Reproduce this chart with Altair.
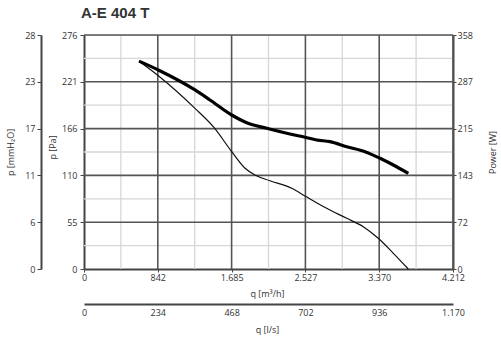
import altair as alt
import pandas as pd

title_text = "A-E 404 T"

# axis ranges
q_max = 4212      # m3/h
ls_max = 1170     # l/s
p_max = 276       # Pa
w_max = 358       # W

# tick labels (as printed on the chart)
q_tick_labels = ["0", "842", "1.685", "2.527", "3.370", "4.212"]
ls_tick_labels = ["0", "234", "468", "702", "936", "1.170"]
pa_tick_labels = ["0", "55", "110", "166", "221", "276"]
mm_tick_labels = ["0", "6", "11", "17", "23", "28"]
w_tick_labels = ["0", "72", "143", "215", "287", "358"]

# pressure curve (thin line): q [m3/h] vs p [Pa]
pres_q = [628, 848, 1267, 1476, 1686, 1838, 1952, 2123, 2371, 2523, 2770, 2999, 3188, 3359, 3531, 3702]
pres_p = [245, 228, 189.5, 167.8, 138.4, 118.8, 110.9, 104.1, 95.2, 86.1, 71.6, 59.8, 49.9, 36.2, 18.5, 0]

# power curve (thick line): q [m3/h] vs Power [W]
pow_q = [628, 848, 1267, 1438, 1686, 1857, 2085, 2351, 2523, 2656, 2808, 2999, 3208, 3379, 3531, 3702]
pow_w = [318, 304.5, 273.9, 258.6, 235.6, 223.8, 215.3, 206.5, 201.5, 197.4, 194.8, 187.1, 179.5, 169.4, 159.1, 146.4]

n_div = 5
q_step = q_max / n_div
p_step = p_max / n_div
w_step = w_max / n_div
ls_step = ls_max / n_div
q_ticks = [i * q_step for i in range(n_div + 1)]
p_ticks = [i * p_step for i in range(n_div + 1)]
w_ticks = [i * w_step for i in range(n_div + 1)]
ls_ticks = [i * ls_step for i in range(n_div + 1)]
idx_ticks = list(range(n_div + 1))
q_minor = [(i + 0.5) * q_step for i in range(n_div)]
p_minor = [(i + 0.5) * p_step for i in range(n_div)]


def lab_expr(labels, step):
    return "[" + ",".join("'%s'" % l for l in labels) + "][round(datum.value/%s)]" % step


FONT = "Open Sans"
common = dict(
    labelFont=FONT, labelFontSize=9, labelColor="#333",
    titleFont=FONT, titleFontSize=9, titleFontWeight="normal", titleColor="#333",
    domainColor="#444", domainWidth=2, tickColor="#444", tickWidth=1,
    grid=False, labelFlush=False, labelOverlap=False,
)

xs = alt.Scale(domain=[0, q_max], nice=False, zero=False)
ys_pa = alt.Scale(domain=[0, p_max], nice=False, zero=False)
ys_w = alt.Scale(domain=[0, w_max], nice=False, zero=False)

GRID_MINOR = "#d6d6d6"
GRID_MAJOR = "#555555"

minor_v = alt.Chart(pd.DataFrame({"q": q_minor})).mark_rule(
    color=GRID_MINOR, strokeWidth=1.3).encode(x=alt.X("q:Q", scale=xs, axis=None))
minor_h = alt.Chart(pd.DataFrame({"p": p_minor})).mark_rule(
    color=GRID_MINOR, strokeWidth=1.3).encode(y=alt.Y("p:Q", scale=ys_pa, axis=None))
major_v = alt.Chart(pd.DataFrame({"q": q_ticks[1:]})).mark_rule(
    color=GRID_MAJOR, strokeWidth=1.6).encode(x=alt.X("q:Q", scale=xs, axis=None))
major_h = alt.Chart(pd.DataFrame({"p": p_ticks[1:]})).mark_rule(
    color=GRID_MAJOR, strokeWidth=1.6).encode(y=alt.Y("p:Q", scale=ys_pa, axis=None))

pres = alt.Chart(pd.DataFrame({"q": pres_q, "p": pres_p})).mark_line(
    color="#111", strokeWidth=1.2, interpolate="monotone").encode(
    x=alt.X("q:Q", scale=xs, axis=alt.Axis(
        orient="bottom", values=q_ticks, labelExpr=lab_expr(q_tick_labels, q_step),
        title="q [m³/h]", tickSize=3, labelPadding=1,
        titleX=183, titleY=24, titleAlign="center", titleBaseline="middle", **common)),
    y=alt.Y("p:Q", scale=ys_pa, axis=alt.Axis(
        orient="left", values=p_ticks, labelExpr=lab_expr(pa_tick_labels, p_step),
        title="p [Pa]", tickSize=4, labelPadding=3,
        titleX=-32, titleY=112, titleAngle=270, titleAlign="center", titleBaseline="middle", **common)),
)

power = alt.Chart(pd.DataFrame({"q": pow_q, "w": pow_w})).mark_line(
    color="#000", strokeWidth=3.2, interpolate="monotone").encode(
    x=alt.X("q:Q", scale=xs, axis=None),
    y=alt.Y("w:Q", scale=ys_w, axis=alt.Axis(
        orient="right", values=w_ticks, labelExpr=lab_expr(w_tick_labels, w_step),
        title="Power [W]", tickSize=3, labelPadding=1,
        titleX=39, titleY=117, titleAngle=270, titleAlign="center", titleBaseline="middle", **common)),
)

mm_axis = alt.Chart(pd.DataFrame({"i": idx_ticks})).mark_point(opacity=0, size=1).encode(
    y=alt.Y("i:Q", scale=alt.Scale(domain=[0, n_div], nice=False, zero=False), axis=alt.Axis(
        orient="left", offset=43, values=idx_ticks, labelExpr=lab_expr(mm_tick_labels, 1),
        title="p [mmH₂O]", tickSize=4, labelPadding=2,
        titleX=-31, titleY=117, titleAngle=270, titleAlign="center", titleBaseline="middle", **common)),
)

ls_axis = alt.Chart(pd.DataFrame({"v": ls_ticks})).mark_point(opacity=0, size=1).encode(
    x=alt.X("v:Q", scale=alt.Scale(domain=[0, ls_max], nice=False, zero=False), axis=alt.Axis(
        orient="bottom", offset=35, values=ls_ticks, labelExpr=lab_expr(ls_tick_labels, ls_step),
        title="q [l/s]", ticks=False, labelPadding=4,
        titleX=183, titleY=25, titleAlign="center", titleBaseline="middle", **common)),
)

chart = alt.layer(
    minor_v, minor_h, major_v, major_h, pres, power, mm_axis, ls_axis
).resolve_scale(x="independent", y="independent").properties(
    width=369, height=234,
    autosize=alt.AutoSizeParams(type="none"),
    padding={"left": 84, "top": 35, "right": 48, "bottom": 71},
    title=alt.TitleParams(title_text, anchor="start", frame="group", fontSize=15,
                          fontWeight="bold", font="Liberation Sans", color="#333",
                          dx=-3, offset=10),
).configure_view(stroke=None).configure(background="white")

chart.save("out.html", embed_options={"renderer": "svg", "actions": False})
